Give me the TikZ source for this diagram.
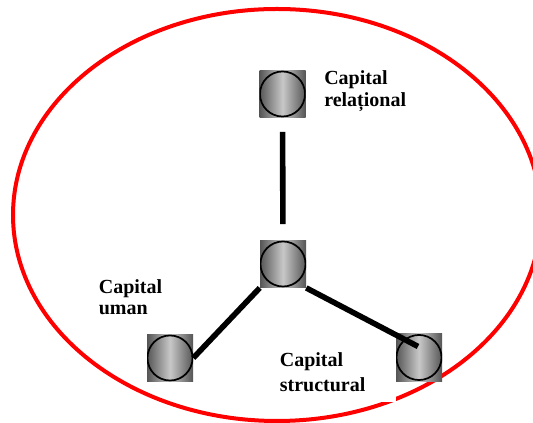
\documentclass[tikz,border=0pt]{standalone}
\usepackage{fontspec}
\setmainfont{Liberation Serif}
\usetikzlibrary{calc}
\definecolor{ringred}{RGB}{255, 0, 0}
\definecolor{balldark}{RGB}{85, 85, 85}
\definecolor{balllight}{RGB}{200, 200, 200}
\tikzset{
    ball/.style={rectangle, minimum width=34.5pt, minimum height=35.5pt, inner sep=0pt,
        left color=balldark, right color=balldark, middle color=balllight,
        path picture={\draw[line width=1.3pt] (path picture bounding box.center) circle (16.9pt);}},
    captext/.style={font=\bfseries\fontsize{15}{16.4}\selectfont, align=left, inner sep=0pt, anchor=base west},
    link/.style={line width=4.2pt}
}

\begin{document}
\begin{tikzpicture}[x=0.75pt, y=-0.75pt]
        \useasboundingbox (0,0) rectangle (533,423);

        % 外圈
        \draw[ringred, line width=3pt] (277,215) ellipse (198pt and 154.5pt);

        % 节点
        \node[ball] (rel) at (282.5,94) {};
        \node[ball] (ctr) at (283,264) {};
        \node[ball] (uman) at (170,358) {};
        \node[captext, fill=white, text width=87.3pt, inner ysep=7.5pt] (structlbl) at (279.6,366.7) {Capital\\[2.4pt]structural};
        \node[ball] (struct) at (419,357.5) {};

        % 标签 (基线取最后一行)
        \node[captext] (rellbl) at (324,106.7) {Capital\\relațional};
        \node[captext] (umanlbl) at (98.6,315) {Capital\\uman};

        % 连线
        \draw[link, shorten <=10.5pt, shorten >=12pt] (rel.south) -- (ctr.north);
        \draw[link] (ctr.south west) -- (uman.east);
        \draw[link] (ctr.south east) -- ($(struct.center)+(-1,-11)$);

\end{tikzpicture}
\end{document}
